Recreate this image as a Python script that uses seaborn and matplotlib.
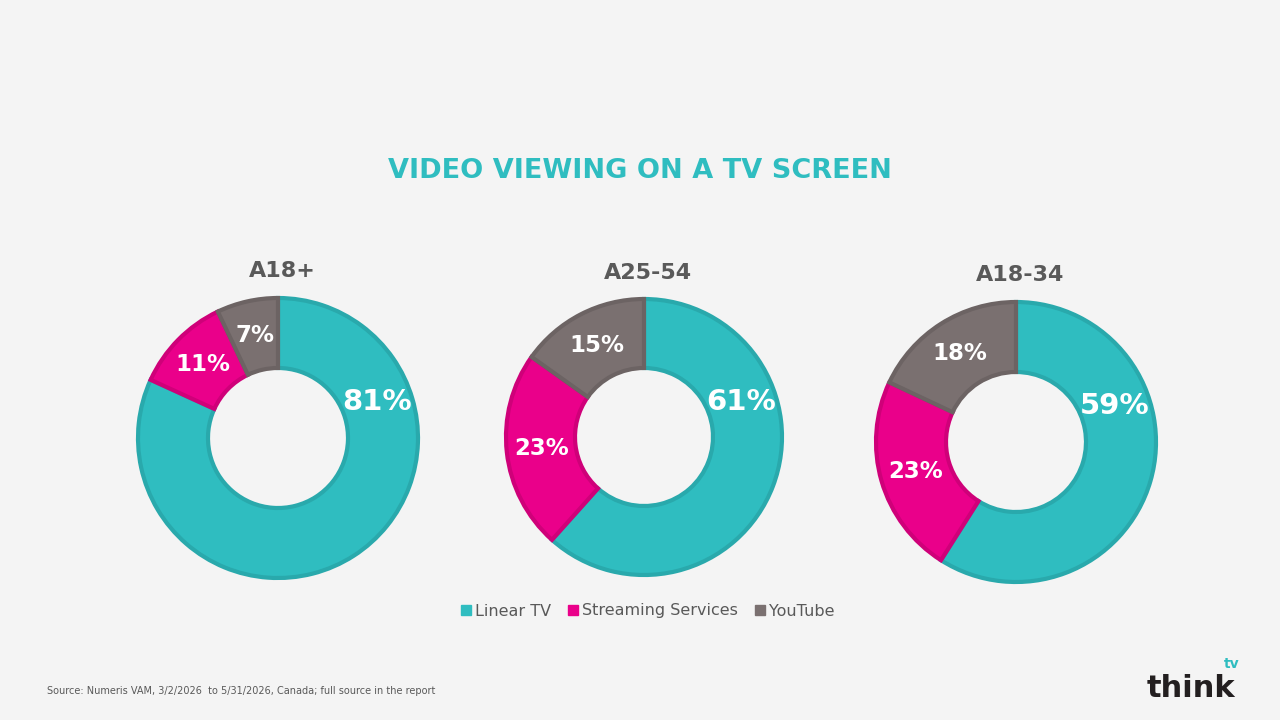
"""Donut charts of TV screen video viewing share by demo"""
# %% Imports
import numpy as np
import seaborn as sns
from matplotlib import pyplot as plt
from matplotlib.lines import Line2D

# %% Data
DEMOS = ["A18+", "A25-54", "A18-34"]
PLATFORMS = ["Linear TV", "Streaming Services", "YouTube"]
LINEAR_TV = [81, 61, 59]
STREAMING = [11, 23, 23]
YOUTUBE = [7, 15, 18]

# %% Style
BG = "#F4F4F4"
FILLS = ["#2FBDC0", "#EA008A", "#7A7070"]
EDGES = ["#29A9AC", "#CF0079", "#6C6363"]
TEXT_GREY = "#595959"
TITLE_COLOR = "#2FBDC0"
BIG_LABEL_ANGLE = 20  # where the large teal label sits (deg)
LABEL_R = 0.75
# pie centres (px) and outer radius (px) on the 1280x720 canvas
PIE_LAYOUT = [(278, 438, 140), (644, 437, 138), (1016, 442, 140)]

sns.set_theme(style="white", rc={"figure.facecolor": BG, "axes.facecolor": BG})
plt.rcParams["font.family"] = ["DejaVu Sans"]

W, H = 1280, 720
fig = plt.figure(figsize=(W / 100, H / 100), dpi=100)

fig.text(0.5, 1 - 171 / H, "VIDEO VIEWING ON A TV SCREEN", ha="center", va="center",
         fontsize=19.5, fontweight="bold", color=TITLE_COLOR)


def _draw_donut(ax, values, title):
    wedges, _ = ax.pie(values, colors=FILLS, startangle=90, counterclock=False, radius=1,
                       wedgeprops=dict(width=0.5, edgecolor="none"))
    for w, ec in zip(wedges, EDGES):
        w.set_edgecolor(ec)
        w.set_linewidth(3)
    total = sum(values)
    start = 90
    for i, v in enumerate(values):
        span = v / total * 360
        mid = start - span / 2
        start -= span
        if i == 0:
            ang, size = BIG_LABEL_ANGLE, 21
        else:
            ang, size = mid, 16.5
        x, y = LABEL_R * np.cos(np.radians(ang)), LABEL_R * np.sin(np.radians(ang))
        ax.text(x, y, f"{v}%", ha="center", va="center", color="white",
                fontsize=size, fontweight="bold")
    ax.set_xlim(-1, 1)
    ax.set_ylim(-1, 1)
    ax.set_aspect("equal")
    ax.axis("off")
    ax.text(0.03, 1.19, title, ha="center", va="center", fontsize=16,
            fontweight="bold", color=TEXT_GREY)


for k, demo in enumerate(DEMOS):
    cx, cy, r = PIE_LAYOUT[k]
    ax = fig.add_axes([(cx - r) / W, 1 - (cy + r) / H, 2 * r / W, 2 * r / H])
    _draw_donut(ax, [LINEAR_TV[k], STREAMING[k], YOUTUBE[k]], demo)

handles = [Line2D([], [], marker="s", linestyle="none", markersize=7.5,
                  markerfacecolor=c, markeredgecolor=c) for c in FILLS]
fig.legend(handles, PLATFORMS, loc="center", bbox_to_anchor=(647 / W, 1 - 611 / H), ncol=3,
           frameon=False, fontsize=11.5, handlelength=0.8, handletextpad=0.15,
           columnspacing=1.0, labelcolor=TEXT_GREY)

fig.text(47 / W, 1 - 691 / H, "Source: Numeris VAM, 3/2/2026  to 5/31/2026, Canada; full source in the report",
         ha="left", va="center", fontsize=7, color=TEXT_GREY)

# logo
fig.text(1235 / W, 1 - 697 / H, "think", ha="right", va="baseline", fontsize=22,
         fontweight="bold", color="#231F20")
fig.text(1240 / W, 1 - 668 / H, "tv", ha="right", va="baseline", fontsize=10,
         fontweight="bold", color=TITLE_COLOR)

fig.savefig("out.png", dpi=100, facecolor=BG)
